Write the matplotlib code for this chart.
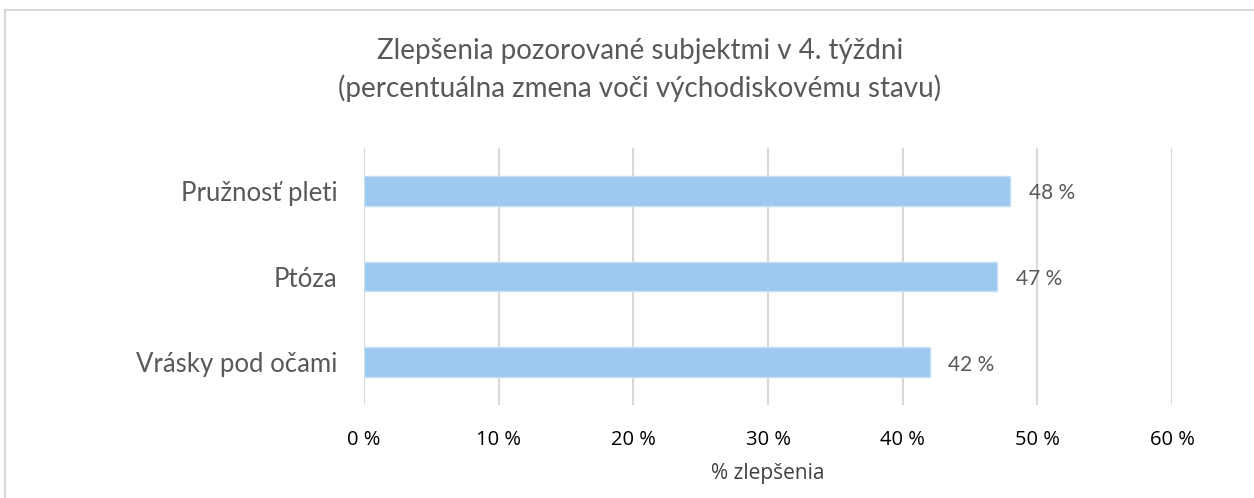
import matplotlib.pyplot as plt
from matplotlib.patches import Rectangle

categories = ['Vrásky pod očami', 'Ptóza', 'Pružnosť pleti']
values = [42, 47, 48]
xticks = [0, 10, 20, 30, 40, 50, 60]

plt.rcParams['font.family'] = ['Lato', 'DejaVu Sans']

fig = plt.figure(figsize=(12.54, 4.98), dpi=100)
ax = fig.add_axes([364 / 1254, 1 - 405 / 498, (1172 - 364) / 1254, (405 - 148) / 498])

# outer chart frame
fig.patches.append(Rectangle((5 / 1254, -0.01), 1.1, 1 - 10 / 498 + 0.01,
                             transform=fig.transFigure, fill=False,
                             edgecolor='#d9d9d9', linewidth=1.5))

y = range(len(categories))
ax.barh(y, values, height=0.35, color='#9dc8f0', edgecolor='#c5dff7', linewidth=1, zorder=3)

for i, v in zip(y, values):
    ax.text(v + 1.4, i - 0.03, '{} %'.format(v), ha='left', va='center',
            fontsize=15, color='#595959')

ax.set_xlim(0, 60)
ax.set_ylim(-0.5, len(categories) - 0.5)
ax.set_xticks(xticks)
ax.set_xticklabels(['{} %'.format(t) for t in xticks], fontsize=14.5,
                   color='#000000', family=['Open Sans', 'DejaVu Sans'])
ax.set_yticks(list(y))
ax.set_yticklabels(categories, fontsize=18.5, color='#595959')
ax.tick_params(axis='both', length=0)
ax.tick_params(axis='x', pad=18)
ax.tick_params(axis='y', pad=19)
ax.grid(axis='x', color='#d9d9d9', linewidth=1.5, zorder=0)
for s in ax.spines.values():
    s.set_visible(False)

ax.set_xlabel('% zlepšenia', fontsize=15, color='#404040', labelpad=9,
              family=['Open Sans', 'DejaVu Sans'])

fig.text(640 / 1254, 1 - 70 / 498,
         'Zlepšenia pozorované subjektmi v 4. týždni\n(percentuálna zmena voči východiskovému stavu)',
         ha='center', va='center', fontsize=20, color='#595959',
         linespacing=1.5)

fig.savefig('out.png', dpi=100)
